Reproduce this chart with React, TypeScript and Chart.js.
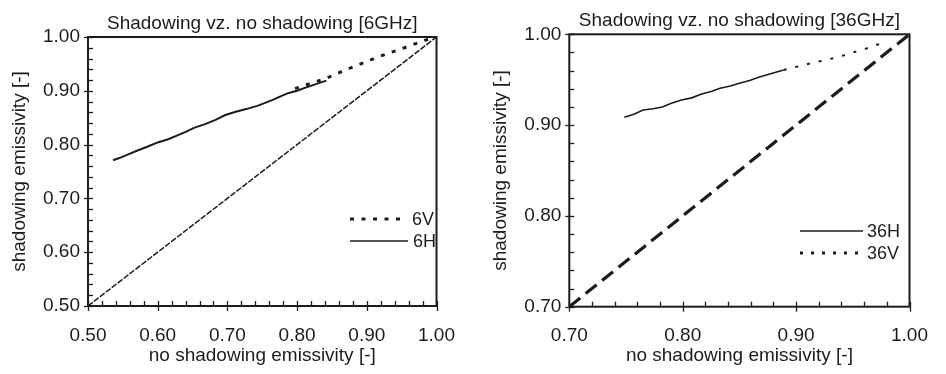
import { useEffect, useRef } from 'react';
import { Chart, registerables } from 'chart.js';

Chart.register(...registerables);

const FONT = "'Liberation Sans', Arial, Helvetica, sans-serif";
const INK = '#1c1c1c';

// ---- 6 GHz panel ----
const title6 = 'Shadowing vz. no shadowing [6GHz]';
const x6H = [0.536, 0.545, 0.556, 0.571, 0.585, 0.6, 0.615, 0.63, 0.641, 0.652, 0.668, 0.683, 0.697, 0.712, 0.727, 0.743, 0.755, 0.765, 0.777, 0.788, 0.8, 0.81, 0.826, 0.842];
const y6H = [0.771, 0.775, 0.781, 0.789, 0.796, 0.804, 0.81, 0.818, 0.824, 0.831, 0.838, 0.846, 0.855, 0.861, 0.866, 0.872, 0.878, 0.883, 0.89, 0.896, 0.9, 0.905, 0.912, 0.919];
const x6V = [0.797, 0.82, 0.841, 0.87, 0.893, 0.914, 0.943, 0.973, 0.995];
const y6V = [0.904, 0.914, 0.923, 0.939, 0.951, 0.962, 0.975, 0.989, 0.999];
const diag6 = [0.5, 1.0];
const ticks6 = [0.5, 0.6, 0.7, 0.8, 0.9, 1.0];

// ---- 36 GHz panel ----
const title36 = 'Shadowing vz. no shadowing [36GHz]';
const x36H = [0.7485, 0.757, 0.765, 0.774, 0.782, 0.79, 0.799, 0.808, 0.816, 0.825, 0.833, 0.842, 0.85, 0.859, 0.867, 0.876, 0.889];
const y36H = [0.9086, 0.912, 0.9166, 0.918, 0.92, 0.924, 0.9276, 0.93, 0.934, 0.937, 0.9405, 0.943, 0.946, 0.949, 0.9526, 0.956, 0.9607];
const x36V = [0.889, 0.913, 0.936, 0.961, 0.975];
const y36V = [0.9607, 0.968, 0.9746, 0.984, 0.99];
const diag36 = [0.7, 1.0];
const ticks36 = [0.7, 0.8, 0.9, 1.0];

const xTitle = 'no shadowing emissivity [-]';
const yTitle = 'shadowing emissivity [-]';

const pts = (xs: number[], ys: number[]) => xs.map((x, i) => ({ x, y: ys[i] }));

const framePlugin = {
  id: 'frame',
  afterDatasetsDraw(chart: any, _args: any, opts: any) {
    const ctx = chart.ctx;
    const { left, right, top, bottom } = chart.chartArea;
    const xs = chart.scales.x;
    const ys = chart.scales.y;
    ctx.save();
    ctx.strokeStyle = INK;
    ctx.lineWidth = 2;
    ctx.strokeRect(left, top, right - left, bottom - top);
    ctx.lineWidth = 1.3;
    const step = opts.minor;
    const drawTicks = (scale: any, horiz: boolean) => {
      const n = Math.round((scale.max - scale.min) / step);
      for (let i = 0; i <= n; i++) {
        const v = scale.min + i * step;
        const p = Math.round(scale.getPixelForValue(v)) + 0.5;
        const major = i % 5 === 0;
        ctx.beginPath();
        if (horiz) {
          ctx.moveTo(p, bottom + (major ? 5 : 0));
          ctx.lineTo(p, bottom - 5);
        } else {
          ctx.moveTo(left - (major ? 4 : 0), p);
          ctx.lineTo(left + 5, p);
        }
        ctx.stroke();
      }
    };
    drawTicks(xs, true);
    drawTicks(ys, false);
    // title
    ctx.fillStyle = INK;
    ctx.font = `19px ${FONT}`;
    ctx.textAlign = 'center';
    ctx.textBaseline = 'alphabetic';
    ctx.fillText(opts.title, (left + right) / 2, opts.titleY);
    // legend
    ctx.font = `${opts.legendFont}px ${FONT}`;
    ctx.textBaseline = 'middle';
    ctx.textAlign = 'left';
    for (const it of opts.legend) {
      ctx.beginPath();
      ctx.lineWidth = it.width;
      ctx.setLineDash(it.dash);
      ctx.moveTo(it.x1, it.y);
      ctx.lineTo(it.x2, it.y);
      ctx.stroke();
      ctx.setLineDash([]);
      ctx.fillText(it.label, it.tx, it.y + 1);
    }
    ctx.restore();
  },
};

function makeConfig(p: any): any {
  const axisFont = { family: FONT, size: 19 };
  return {
    type: 'scatter',
    data: { datasets: p.datasets },
    options: {
      animation: false,
      responsive: false,
      devicePixelRatio: 1,
      layout: { autoPadding: false, padding: { left: 0, top: p.padTop, right: p.padRight, bottom: 0 } },
      plugins: {
        legend: { display: false },
        tooltip: { enabled: false },
        title: { display: false },
        frame: { minor: 0.02, legend: p.legend, legendFont: 18, title: p.title, titleY: p.titleY },
      },
      scales: {
        x: {
          type: 'linear',
          min: p.min,
          max: 1.0,
          afterBuildTicks: (s: any) => { s.ticks = p.ticks.map((v: number) => ({ value: v })); },
          afterFit: (s: any) => { s.height = p.xHeight; },
          ticks: { color: INK, font: axisFont, padding: 18, callback: (v: any) => Number(v).toFixed(2), maxRotation: 0 },
          grid: { display: false, drawTicks: false },
          border: { display: false },
          title: { display: true, text: xTitle, color: INK, font: axisFont, padding: { top: 0, bottom: 6.5 } },
        },
        y: {
          type: 'linear',
          min: p.min,
          max: 1.0,
          afterBuildTicks: (s: any) => { s.ticks = p.ticks.map((v: number) => ({ value: v })); },
          afterFit: (s: any) => { s.width = p.yWidth; },
          ticks: { color: INK, font: axisFont, padding: 8, callback: (v: any) => Number(v).toFixed(2) },
          grid: { display: false, drawTicks: false },
          border: { display: false },
          title: { display: true, text: yTitle, color: INK, font: axisFont, padding: { top: p.yTitlePad, bottom: 0 } },
        },
      },
    },
    plugins: [framePlugin],
  };
}

const line = (data: any, width: number, dash: number[]) => ({
  data,
  showLine: true,
  borderColor: INK,
  backgroundColor: INK,
  borderWidth: width,
  borderDash: dash,
  pointRadius: 0,
  tension: 0,
  fill: false,
});

function Panel({ config, left }: { config: any; left: number }) {
  const ref = useRef<HTMLCanvasElement>(null);
  useEffect(() => {
    const chart = new Chart(ref.current as HTMLCanvasElement, config);
    return () => chart.destroy();
  }, [config]);
  return (
    <canvas
      ref={ref}
      width={473}
      height={374}
      style={{ position: 'absolute', left, top: 0, width: 473, height: 374 }}
    />
  );
}

const config6 = makeConfig({
  title: title6,
  titleY: 28.5,
  min: 0.5,
  ticks: ticks6,
  padTop: 37,
  padRight: 16,
  yWidth: 88,
  xHeight: 68,
  yTitlePad: 8.6,
  datasets: [
    line(pts(diag6, diag6), 1.5, [6, 1.5]),
    line(pts(x6H, y6H), 2, []),
    line(pts(x6V, y6V), 3, [4, 7.5]),
  ],
  legend: [
    { x1: 350, x2: 407, y: 219, width: 3, dash: [4, 7.5], label: '6V', tx: 412 },
    { x1: 350, x2: 408, y: 241, width: 1.3, dash: [], label: '6H', tx: 413 },
  ],
});

const config36 = makeConfig({
  title: title36,
  titleY: 26,
  min: 0.7,
  ticks: ticks36,
  padTop: 34.3,
  padRight: 21.7,
  yWidth: 96.3,
  xHeight: 67.3,
  yTitlePad: 16,
  datasets: [
    line(pts(diag36, diag36), 3.2, [14, 7]),
    line(pts(x36H, y36H), 1.6, []),
    line(pts(x36V, y36V), 2, [3, 9]),
  ],
  legend: [
    { x1: 327, x2: 390, y: 231, width: 1.3, dash: [], label: '36H', tx: 394 },
    { x1: 327, x2: 387, y: 253, width: 3, dash: [3, 8], label: '36V', tx: 394 },
  ],
});

export default function App() {
  return (
    <div style={{ position: 'absolute', left: 0, top: 0, width: 946, height: 374, background: '#fff' }}>
      <Panel config={config6} left={0} />
      <Panel config={config36} left={473} />
    </div>
  );
}
